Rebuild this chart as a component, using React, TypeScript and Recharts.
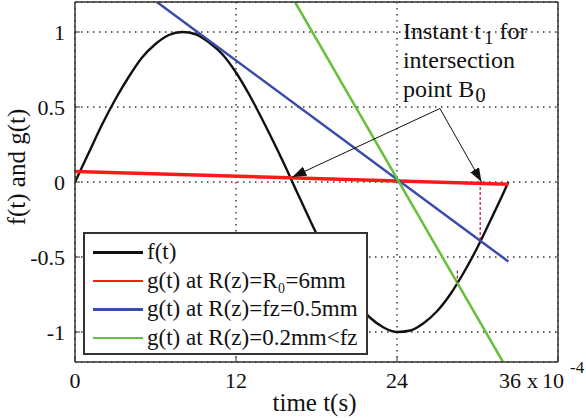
import React from 'react';
import {
  LineChart,
  Line,
  XAxis,
  YAxis,
  CartesianGrid,
  ReferenceLine,
  ReferenceDot,
  Legend,
} from 'recharts';

const FONT = '"Liberation Serif", "Times New Roman", Times, serif';

// ---- axes ----
const xTicks = [0, 12, 24, 36];
const yTicks = [-1, -0.5, 0, 0.5, 1];
const xDomain: [number, number] = [0, 36];
const yDomain: [number, number] = [-1.2, 1.2];

// ---- f(t) (time in units of 1e-4 s) ----
const fTimes = [0, 1, 2, 3, 4, 5, 6, 7, 8, 9, 10, 11, 12, 13, 14, 15, 16, 16.2, 17, 18, 19, 20, 21, 22, 23, 24, 25, 26, 27, 28, 29, 30, 31, 32, 32.3];
const fValues = [0, 0.19, 0.38, 0.55, 0.7, 0.83, 0.92, 0.98, 1.0, 0.985, 0.93, 0.85, 0.73, 0.58, 0.41, 0.23, 0.04, 0, -0.155, -0.345, -0.52, -0.675, -0.805, -0.905, -0.97, -1.0, -0.99, -0.94, -0.86, -0.745, -0.6, -0.435, -0.25, -0.06, 0];

// ---- g(t) straight lines ----
const redTimes = [0, 32.3];
const redValues = [0.07, -0.015];
const blueTimes = [6.1, 32.3];
const blueValues = [1.2, -0.53];
const greenTimes = [16.4, 31.9];
const greenValues = [1.2, -1.2];

const seriesNames = [
  'f(t)',
  'g(t) at R(z)=R\u2080=6mm',
  'g(t) at R(z)=fz=0.5mm',
  'g(t) at R(z)=0.2mm<fz',
];
const seriesColors = ['#111111', '#ff1a1a', '#3b4ba8', '#66c03c'];

// ---- annotation anchors (data units) ----
const arrowTail = { t: 27.2, v: 0.49 };
const arrowTipLeft = { t: 16.2, v: 0.033 };
const arrowTipRight = { t: 30.3, v: 0.0 };
const dropMain = { t: 30.2, from: 0, to: -0.387 };
const dropSmall = { t: 28.5, from: -0.59, to: -0.67 };

const toPoints = (ts: number[], vs: number[]) => ts.map((t, i) => ({ t, v: vs[i] }));
const fData = toPoints(fTimes, fValues);
const redData = toPoints(redTimes, redValues);
const blueData = toPoints(blueTimes, blueValues);
const greenData = toPoints(greenTimes, greenValues);

const arrowShape = (p: any) => (
  <line
    x1={p.x1}
    y1={p.y1}
    x2={p.x2}
    y2={p.y2}
    stroke="#111"
    strokeWidth={1}
    markerEnd="url(#arrowHead)"
  />
);

const XTick = (props: any) => {
  const { x, y, payload } = props;
  const last = payload.value === xTicks[xTicks.length - 1];
  return (
    <g>
      <text
        x={last ? x - 48 : x}
        y={y + 15}
        textAnchor="middle"
        fontFamily={FONT}
        fontSize={22}
        fill="#111"
      >
        {payload.value}
      </text>
      {last && (
        <text y={y + 15} fontFamily={FONT} fontSize={22} fill="#111">
          <tspan x={x - 31}>x</tspan>
          <tspan x={x - 16}>10</tspan>
        </text>
      )}
      {last && (
        <text x={x + 12} y={y} fontFamily={FONT} fontSize={17} fill="#111">
          -4
        </text>
      )}
    </g>
  );
};

const xLabel = (props: any) => {
  const vb = props.viewBox;
  return (
    <text
      x={vb.x + vb.width / 2 - 2}
      y={411}
      textAnchor="middle"
      fontFamily={FONT}
      fontSize={25}
      fill="#111"
    >
      time t(s)
    </text>
  );
};

const yLabel = (props: any) => {
  const vb = props.viewBox;
  const cx = vb.x + 1;
  const cy = vb.y + vb.height / 2 - 15;
  return (
    <text
      x={cx}
      y={cy}
      transform={`rotate(-90 ${cx} ${cy})`}
      textAnchor="middle"
      dominantBaseline="central"
      fontFamily={FONT}
      fontSize={25}
      fill="#111"
    >
      f(t) and g(t)
    </text>
  );
};

const annotationLabel = (props: any) => {
  const vb = props.viewBox;
  const cx = vb.x + vb.width / 2;
  const cy = vb.y + vb.height / 2;
  const x0 = cx - 37;
  return (
    <g>
      <defs>
        <marker
          id="arrowHead"
          markerUnits="userSpaceOnUse"
          viewBox="0 0 14 10"
          markerWidth={14}
          markerHeight={10}
          refX={14}
          refY={5}
          orient="auto"
        >
          <path d="M0,0 L14,5 L0,10 z" fill="#111" />
        </marker>
      </defs>
      <text x={x0} y={cy - 70} fontFamily={FONT} fontSize={24} fill="#111">
        Instant t
        <tspan fontSize={19} dx={3} dy={5}>1</tspan>
        <tspan dx={6} dy={-5}>for</tspan>
      </text>
      <text x={x0} y={cy - 41} fontFamily={FONT} fontSize={24} fill="#111">
        intersection
      </text>
      <text x={x0} y={cy - 12} fontFamily={FONT} fontSize={24} fill="#111">
        point B
        <tspan fontSize={21} dx={1} dy={5}>0</tspan>
      </text>
    </g>
  );
};

const renderLegend = () => (
  <div
    style={{
      width: 285,
      height: 123,
      border: '2px solid #333',
      background: '#fff',
      boxSizing: 'border-box',
      paddingTop: 4,
      paddingLeft: 8,
      fontFamily: FONT,
    }}
  >
    {seriesNames.map((name, i) => (
      <div key={name} style={{ display: 'flex', alignItems: 'center', height: 28.5 }}>
        <div style={{ width: 50, height: 2.5, background: seriesColors[i] }} />
        <span
          style={{
            marginLeft: 4,
            fontSize: 23,
            lineHeight: '28px',
            color: '#111',
            whiteSpace: 'nowrap',
          }}
        >
          {name}
        </span>
      </div>
    ))}
  </div>
);

export default function App() {
  return (
    <div style={{ position: 'absolute', left: 0, top: 0, background: '#fff' }}>
      <LineChart width={586} height={418} margin={{ top: 1, right: 27, bottom: 26, left: 15 }}>
        <CartesianGrid stroke="#333" strokeDasharray="1.5 4.5" strokeWidth={1.4} />
        <XAxis
          dataKey="t"
          type="number"
          domain={xDomain}
          ticks={xTicks}
          interval={0}
          allowDataOverflow
          height={30}
          axisLine={{ stroke: '#333', strokeWidth: 1.5 }}
          tickLine={{ stroke: '#333' }}
          tickSize={-5}
          tickMargin={16}
          tick={<XTick />}
          label={xLabel}
        />
        <XAxis
          xAxisId="top"
          orientation="top"
          dataKey="t"
          type="number"
          domain={xDomain}
          ticks={xTicks}
          interval={0}
          height={1}
          axisLine={{ stroke: '#333', strokeWidth: 1.5 }}
          tickLine={{ stroke: '#333' }}
          tickSize={-5}
          tick={false}
        />
        <YAxis
          type="number"
          domain={yDomain}
          ticks={yTicks}
          interval={0}
          allowDataOverflow
          width={60}
          axisLine={{ stroke: '#333', strokeWidth: 1.5 }}
          tickLine={{ stroke: '#333' }}
          tickSize={-5}
          tickMargin={15}
          tick={{ fontFamily: FONT, fontSize: 22, fill: '#111' }}
          label={yLabel}
        />
        <YAxis
          yAxisId="right"
          orientation="right"
          type="number"
          domain={yDomain}
          ticks={yTicks}
          interval={0}
          width={1}
          axisLine={{ stroke: '#333', strokeWidth: 1.5 }}
          tickLine={{ stroke: '#333' }}
          tickSize={-5}
          tick={false}
        />
        <Line
          data={fData}
          dataKey="v"
          name={seriesNames[0]}
          type="monotone"
          stroke={seriesColors[0]}
          strokeWidth={2.4}
          dot={false}
          activeDot={false}
          isAnimationActive={false}
        />
        <Line
          data={redData}
          dataKey="v"
          name={seriesNames[1]}
          type="linear"
          stroke={seriesColors[1]}
          strokeWidth={3.4}
          dot={false}
          activeDot={false}
          isAnimationActive={false}
        />
        <Line
          data={blueData}
          dataKey="v"
          name={seriesNames[2]}
          type="linear"
          stroke={seriesColors[2]}
          strokeWidth={2.5}
          dot={false}
          activeDot={false}
          isAnimationActive={false}
        />
        <Line
          data={greenData}
          dataKey="v"
          name={seriesNames[3]}
          type="linear"
          stroke={seriesColors[3]}
          strokeWidth={2.5}
          dot={false}
          activeDot={false}
          isAnimationActive={false}
        />
        <ReferenceLine
          segment={[
            { x: dropMain.t, y: dropMain.from },
            { x: dropMain.t, y: dropMain.to },
          ]}
          stroke="#c0102a"
          strokeWidth={1.2}
          strokeDasharray="3 2"
        />
        <ReferenceLine
          segment={[
            { x: dropSmall.t, y: dropSmall.from },
            { x: dropSmall.t, y: dropSmall.to },
          ]}
          stroke="#c0102a"
          strokeWidth={1.2}
          strokeDasharray="3 2"
        />
        <ReferenceLine
          segment={[
            { x: arrowTail.t, y: arrowTail.v },
            { x: arrowTipLeft.t, y: arrowTipLeft.v },
          ]}
          shape={arrowShape}
        />
        <ReferenceLine
          segment={[
            { x: arrowTail.t, y: arrowTail.v },
            { x: arrowTipRight.t, y: arrowTipRight.v },
          ]}
          shape={arrowShape}
        />
        <ReferenceDot
          x={arrowTail.t}
          y={arrowTail.v}
          r={1}
          fill="none"
          stroke="none"
          label={annotationLabel}
        />
        <Legend
          layout="vertical"
          align="center"
          verticalAlign="middle"
          content={renderLegend}
          wrapperStyle={{ left: 83, top: 232, width: 285, height: 123 }}
        />
      </LineChart>
    </div>
  );
}
